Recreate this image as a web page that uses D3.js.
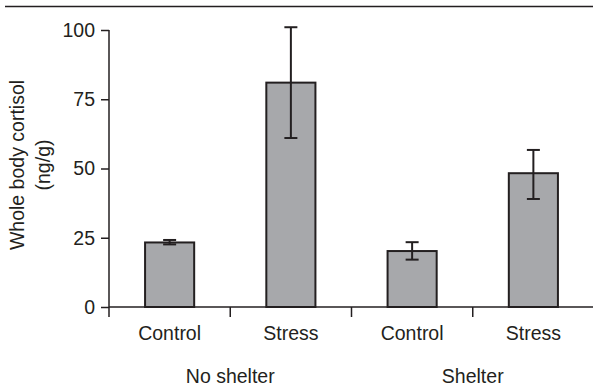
<!DOCTYPE html>
<html><head><meta charset="utf-8">
<script src="https://cdn.jsdelivr.net/npm/d3@7"></script>
<style>body{margin:0;background:#fff}svg{display:block}text{font-family:"Liberation Sans",Arial,sans-serif;fill:#231f20}</style>
</head><body>
<svg id="c" width="593" height="390"></svg>
<script>
const groups = ["No shelter", "Shelter"];
const categories = ["Control", "Stress", "Control", "Stress"];
const means = [23.3, 81, 20.2, 48.3];
const errLow = [22.6, 61, 17.1, 39];
const errHigh = [24.2, 101, 23.4, 56.7];
const yTicks = [0, 25, 50, 75, 100];
const yTitle = ["Whole body cortisol", "(ng/g)"];

const svg = d3.select("#c");
const ink = "#231f20";
const x = d3.scaleBand().domain(d3.range(categories.length)).range([109, 594]).padding(0);
const y = d3.scaleLinear().domain([0, 100]).range([307, 30]);

// top rule
svg.append("line").attr("x1", 5).attr("x2", 593).attr("y1", 6.5).attr("y2", 6.5)
  .attr("stroke", ink).attr("stroke-width", 1.5);

// y axis
const ya = svg.append("g").attr("transform", "translate(109,0)")
  .call(d3.axisLeft(y).tickValues(yTicks).tickSize(8).tickPadding(6));
ya.select(".domain").attr("stroke", ink).attr("stroke-width", 1.5).attr("d", `M0,${y(100)}V${y(0)}`);
ya.selectAll(".tick line").attr("stroke", ink).attr("stroke-width", 1.5);
ya.selectAll(".tick text").attr("font-size", 19.5).attr("font-family", "Liberation Sans, Arial, sans-serif").attr("fill", ink);

// x axis
svg.append("line").attr("x1", 109).attr("x2", 593).attr("y1", y(0)).attr("y2", y(0))
  .attr("stroke", ink).attr("stroke-width", 1.5);
const bounds = d3.range(categories.length).map(i => x(i));
svg.selectAll(".xt").data(bounds).join("line")
  .attr("x1", d => d).attr("x2", d => d).attr("y1", y(0)).attr("y2", y(0) + 10)
  .attr("stroke", ink).attr("stroke-width", 1.5);

// bars
const bw = x.bandwidth() * 0.405;
svg.selectAll(".bar").data(means).join("rect")
  .attr("x", (d, i) => x(i) + x.bandwidth() / 2 - bw / 2)
  .attr("y", d => y(d)).attr("width", bw).attr("height", d => y(0) - y(d))
  .attr("fill", "#a7a8ab").attr("stroke", ink).attr("stroke-width", 2);

// error bars
const cap = 13;
means.forEach((m, i) => {
  const cx = x(i) + x.bandwidth() / 2;
  const g = svg.append("g").attr("stroke", ink).attr("stroke-width", 2);
  g.append("line").attr("x1", cx).attr("x2", cx).attr("y1", y(errLow[i])).attr("y2", y(errHigh[i]));
  g.append("line").attr("x1", cx - cap / 2).attr("x2", cx + cap / 2).attr("y1", y(errHigh[i])).attr("y2", y(errHigh[i]));
  g.append("line").attr("x1", cx - cap / 2).attr("x2", cx + cap / 2).attr("y1", y(errLow[i])).attr("y2", y(errLow[i]));
});

// category labels
svg.selectAll(".cl").data(categories).join("text")
  .attr("x", (d, i) => x(i) + x.bandwidth() / 2).attr("y", 340)
  .attr("text-anchor", "middle").attr("font-size", 19.5).text(d => d);

// group labels
svg.selectAll(".gl").data(groups).join("text")
  .attr("x", (d, i) => x(i * 2 + 1)).attr("y", 383)
  .attr("text-anchor", "middle").attr("font-size", 19.5).text(d => d);

// y title
svg.selectAll(".yt").data(yTitle).join("text")
  .attr("transform", (d, i) => `translate(${24 + i * 26},165) rotate(-90)`)
  .attr("text-anchor", "middle").attr("font-size", 19.5).text(d => d);
</script>
</body></html>
